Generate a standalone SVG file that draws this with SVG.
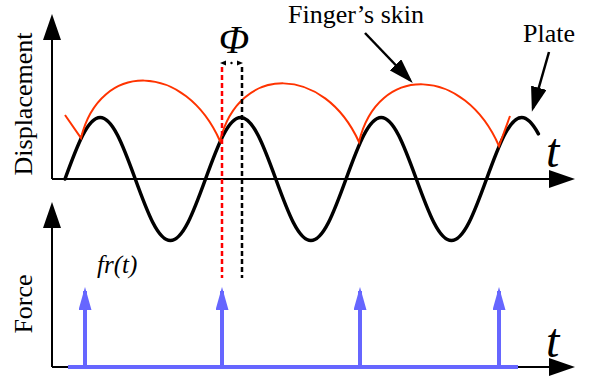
<svg xmlns="http://www.w3.org/2000/svg" width="598" height="380" viewBox="0 0 598 380">
<style>
.axis{stroke:#000;stroke-width:2;fill:none}
.lbl{font-family:"Liberation Serif","Times New Roman",serif;font-size:26px;fill:#000}
.ital{font-family:"Liberation Serif","Times New Roman",serif;font-style:italic;fill:#000}
.plate{stroke:#000;stroke-width:3.5;fill:none;stroke-linecap:round;stroke-linejoin:round}
.skin{stroke:#FF3300;stroke-width:2;fill:none}
.blue{stroke:#6666FF;stroke-width:4;fill:none}
.ptr{stroke:#000;stroke-width:2.5;fill:none}
</style>
<defs>
<marker id="axh" markerUnits="userSpaceOnUse" markerWidth="26" markerHeight="18" viewBox="0 0 26 18" refX="22" refY="9" orient="auto"><path d="M0,0 L26,9 L0,18 z" fill="#000"/></marker>
<marker id="ptrh" markerUnits="userSpaceOnUse" markerWidth="25" markerHeight="16" viewBox="0 0 25 16" refX="21" refY="8" orient="auto"><path d="M0,0 L25,8 L0,16 z" fill="#000"/></marker>
<marker id="bh" markerUnits="userSpaceOnUse" markerWidth="23" markerHeight="13" viewBox="0 0 23 13" refX="19" refY="6.5" orient="auto"><path d="M0,0 L23,6.5 L0,13 z" fill="#6666FF"/></marker>
</defs>

<g id="axes">
<path class="axis" d="M52,179 L52,18" marker-end="url(#axh)"/>
<path class="axis" d="M52,179 L571,179" marker-end="url(#axh)"/>
<path class="axis" d="M52,367 L52,206" marker-end="url(#axh)"/>
<path class="axis" d="M52,367 L571,367" marker-end="url(#axh)"/>
</g>

<g id="labels">
<text class="lbl" transform="translate(32,104) rotate(-90)" text-anchor="middle">Displacement</text>
<text class="lbl" transform="translate(32,304) rotate(-90)" text-anchor="middle">Force</text>
<text class="ital" x="546" y="167" font-size="48">t</text>
<text class="ital" x="546" y="357" font-size="48">t</text>
<text class="ital" x="234" y="53" font-size="40" text-anchor="middle">Φ</text>
<text class="ital" x="97" y="273" font-size="25">fr(t)</text>
</g>

<g id="plate-wave">
<path class="plate" d="M65,179 c12.35,-33.97 22.78,-61.5 35.13,-61.5 s22.78,27.53 35.13,61.5 s22.78,61.5 35.13,61.5 s22.78,-27.53 35.13,-61.5 s22.78,-61.5 35.13,-61.5 s22.78,27.53 35.13,61.5 s22.78,61.5 35.13,61.5 s22.78,-27.53 35.13,-61.5 s22.78,-61.5 35.13,-61.5 s22.78,27.53 35.13,61.5 s22.78,61.5 35.13,61.5 s22.78,-27.53 35.13,-61.5 s22.78,-61.5 35.13,-61.5 c5.57,0 11.1,6.1 16.7,16.3"/>
</g>

<g id="skin-wave">
<path class="skin" d="M65,115 L81,138 C100,60 185,62 220,141 C239,63 324,65 359,142 C378,63 464,66 499,146 L510,116"/>
</g>

<g id="phase">
<line x1="222" y1="67" x2="222" y2="278" stroke="#FF0000" stroke-width="2.5" stroke-dasharray="5,3"/>
<line x1="242" y1="67" x2="242" y2="278" stroke="#000" stroke-width="2.5" stroke-dasharray="5,3"/>
<polygon points="220,63 226,60.5 226,65.5" fill="#000"/>
<polygon points="243,63 237,60.5 237,65.5" fill="#000"/>
<circle cx="231.5" cy="63" r="1.2" fill="#000"/>
</g>

<g id="finger-label">
<text class="lbl" x="288" y="23">Finger’s skin</text>
</g>
<g id="plate-label">
<text class="lbl" x="523" y="42">Plate</text>
</g>

<g id="force">
<line class="blue" x1="68" y1="367" x2="518" y2="367"/>
<line class="blue" x1="85" y1="367" x2="85" y2="291" marker-end="url(#bh)"/>
<line class="blue" x1="222" y1="367" x2="222" y2="291" marker-end="url(#bh)"/>
<line class="blue" x1="360" y1="367" x2="360" y2="291" marker-end="url(#bh)"/>
<line class="blue" x1="499" y1="367" x2="499" y2="291" marker-end="url(#bh)"/>
</g>

<g id="connectors">
<line class="ptr" x1="365" y1="33" x2="410" y2="80" marker-end="url(#ptrh)"/>
<line class="ptr" x1="549" y1="52" x2="533" y2="108" marker-end="url(#ptrh)"/>
</g>
</svg>
